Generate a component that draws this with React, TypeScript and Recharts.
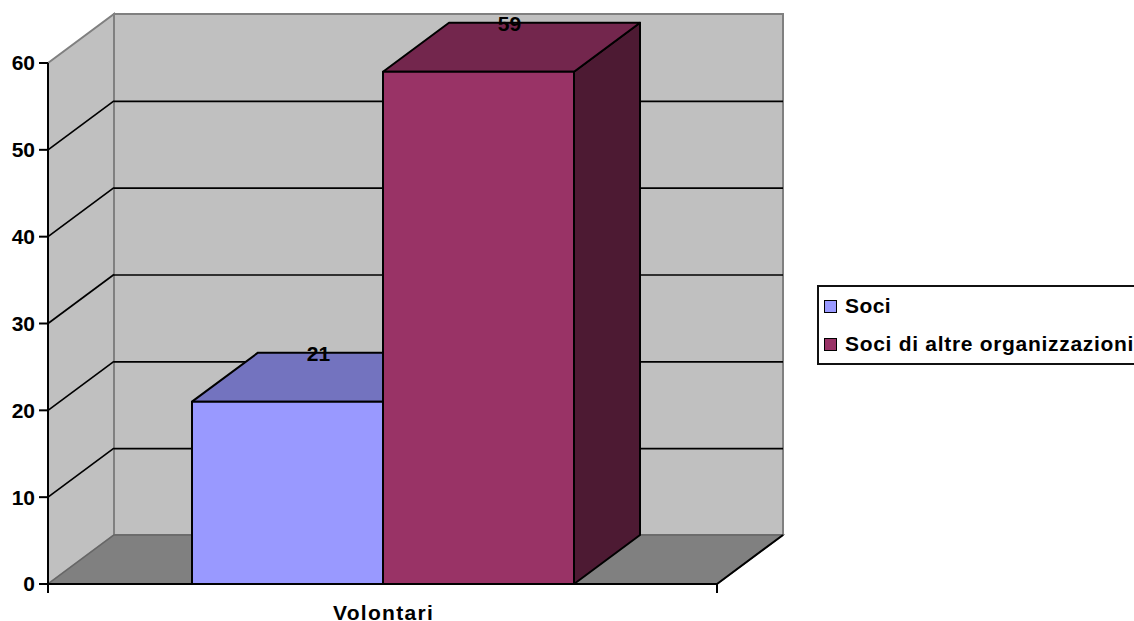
import React from 'react';
import {
  BarChart,
  Bar,
  XAxis,
  YAxis,
  Legend,
  LabelList,
  ReferenceArea,
  ReferenceLine
} from 'recharts';

const categories = ['Volontari'];
const sociValues = [21];
const altreValues = [59];
const yTicks = [0, 10, 20, 30, 40, 50, 60];
const gridValues = [10, 20, 30, 40, 50];

const chartData = categories.map((name, i) => ({
  name,
  Soci: sociValues[i],
  'Soci di altre organizzazioni': altreValues[i]
}));

// Depth of the fake 3D box, in pixels
const DX = 66;
const DY = 49;
const FONT = '"Liberation Sans", Arial, sans-serif';
const FONT_SIZE = 21;

const pts = (list: number[][]) => list.map((p) => p.join(',')).join(' ');

// Back wall, side wall and floor
const Walls = ({ x, y, width, height }: any) => {
  const r = x + width;
  const b = y + height;
  return (
    <g>
      <polygon points={pts([[x + DX, y - DY], [r + DX, y - DY], [r + DX, b - DY], [x + DX, b - DY]])} fill="#C0C0C0" stroke="#808080" strokeWidth={2} />
      <polygon points={pts([[x, y], [x + DX, y - DY], [x + DX, b - DY], [x, b]])} fill="#C0C0C0" stroke="#808080" strokeWidth={2} />
      <polygon points={pts([[x, b], [x + DX, b - DY], [r + DX, b - DY], [r, b]])} fill="#808080" stroke="#666666" strokeWidth={1.5} />
      <line x1={r} y1={b} x2={r + DX} y2={b - DY} stroke="#000" strokeWidth={2} />
      <line x1={x} y1={b} x2={x} y2={b + 9} stroke="#000" strokeWidth={2} />
      <line x1={r} y1={b} x2={r} y2={b + 9} stroke="#000" strokeWidth={2} />
    </g>
  );
};

// One gridline bent over the side wall and the back wall
const GridLine = ({ x1, x2, y1 }: any) => (
  <g>
    <line x1={x1} y1={y1} x2={x1 + DX} y2={y1 - DY} stroke="#000" strokeWidth={1.7} />
    <line x1={x1 + DX} y1={y1 - DY + 0.5} x2={x2 + DX} y2={y1 - DY + 0.5} stroke="#000" strokeWidth={1.7} />
  </g>
);

const Bar3D = ({ x, y, width, height, fill, topFill, sideFill }: any) => {
  const r = x + width;
  const b = y + height;
  return (
    <g stroke="#000" strokeWidth={2} strokeLinejoin="round">
      <polygon points={pts([[r, y], [r + DX, y - DY], [r + DX, b - DY], [r, b]])} fill={sideFill} />
      <polygon points={pts([[x, y], [x + DX, y - DY], [r + DX, y - DY], [r, y]])} fill={topFill} />
      <rect x={x} y={y} width={width} height={height} fill={fill} />
    </g>
  );
};

const BarLabel = ({ x, y, width, value }: any) => (
  <text
    x={x + width / 2 + 31}
    y={y - DY + 1}
    textAnchor="middle"
    dominantBaseline="central"
    fontFamily={FONT}
    fontWeight="bold"
    fontSize={FONT_SIZE}
    fill="#000"
  >
    {value}
  </text>
);

const LegendBox = ({ payload }: any) => (
  <div
    style={{
      boxSizing: 'border-box',
      width: 340,
      height: 80,
      border: '2px solid #111',
      background: '#fff',
      position: 'relative',
      fontFamily: FONT,
      fontWeight: 'bold',
      fontSize: FONT_SIZE,
      color: '#000'
    }}
  >
    {(payload || []).map((entry: any, index: number) => (
      <div key={index} style={{ position: 'absolute', left: 5, top: 7 + index * 38, height: 24, display: 'flex', alignItems: 'center', whiteSpace: 'nowrap' }}>
        <span style={{ boxSizing: 'border-box', width: 13, height: 13, border: '1.5px solid #000', background: entry.color, marginRight: 8 }} />
        <span style={{ letterSpacing: index === 1 ? 0.7 : 0.4 }}>{entry.value}</span>
      </div>
    ))}
  </div>
);

const CategoryTick = ({ x, y, payload }: any) => (
  <text x={x + 1} y={y + 20} textAnchor="middle" dominantBaseline="central" fontFamily={FONT} fontWeight="bold" fontSize={FONT_SIZE} letterSpacing={1.3} fill="#000">
    {payload.value}
  </text>
);

export default function App() {
  return (
    <div style={{ position: 'absolute', left: 0, top: 0, width: 1134, height: 621, overflow: 'hidden', background: '#fff' }}>
      <BarChart
        width={1134}
        height={621}
        data={chartData}
        margin={{ top: 63, right: 417, left: 0, bottom: 0 }}
        barSize={191}
        barGap={0}
      >
        <ReferenceArea y1={0} y2={60} ifOverflow="visible" shape={<Walls />} />
        {gridValues.map((v) => (
          <ReferenceLine key={v} y={v} ifOverflow="visible" zIndex={150} shape={<GridLine />} />
        ))}
        <XAxis
          dataKey="name"
          height={37}
          axisLine={{ stroke: '#000', strokeWidth: 2 }}
          tickLine={false}
          tick={<CategoryTick />}
        />
        <YAxis
          width={48}
          domain={[0, 60]}
          ticks={yTicks}
          interval={0}
          tickSize={9}
          tickMargin={4}
          axisLine={{ stroke: '#000', strokeWidth: 2 }}
          tickLine={{ stroke: '#000', strokeWidth: 2 }}
          tick={{ fontFamily: FONT, fontWeight: 'bold', fontSize: FONT_SIZE, fill: '#000' }}
        />
        <Legend
          layout="horizontal"
          verticalAlign="middle"
          content={<LegendBox />}
          wrapperStyle={{ left: 817, top: 285, width: 340, height: 80 }}
        />
        <Bar
          dataKey="Soci"
          fill="#9999FF"
          isAnimationActive={false}
          shape={<Bar3D topFill="#7373BF" sideFill="#4D4D80" />}
        >
          <LabelList dataKey="Soci" content={<BarLabel />} />
        </Bar>
        <Bar
          dataKey="Soci di altre organizzazioni"
          fill="#993366"
          isAnimationActive={false}
          shape={<Bar3D topFill="#73264D" sideFill="#4D1A33" />}
        >
          <LabelList dataKey="Soci di altre organizzazioni" content={<BarLabel />} />
        </Bar>
      </BarChart>
    </div>
  );
}
